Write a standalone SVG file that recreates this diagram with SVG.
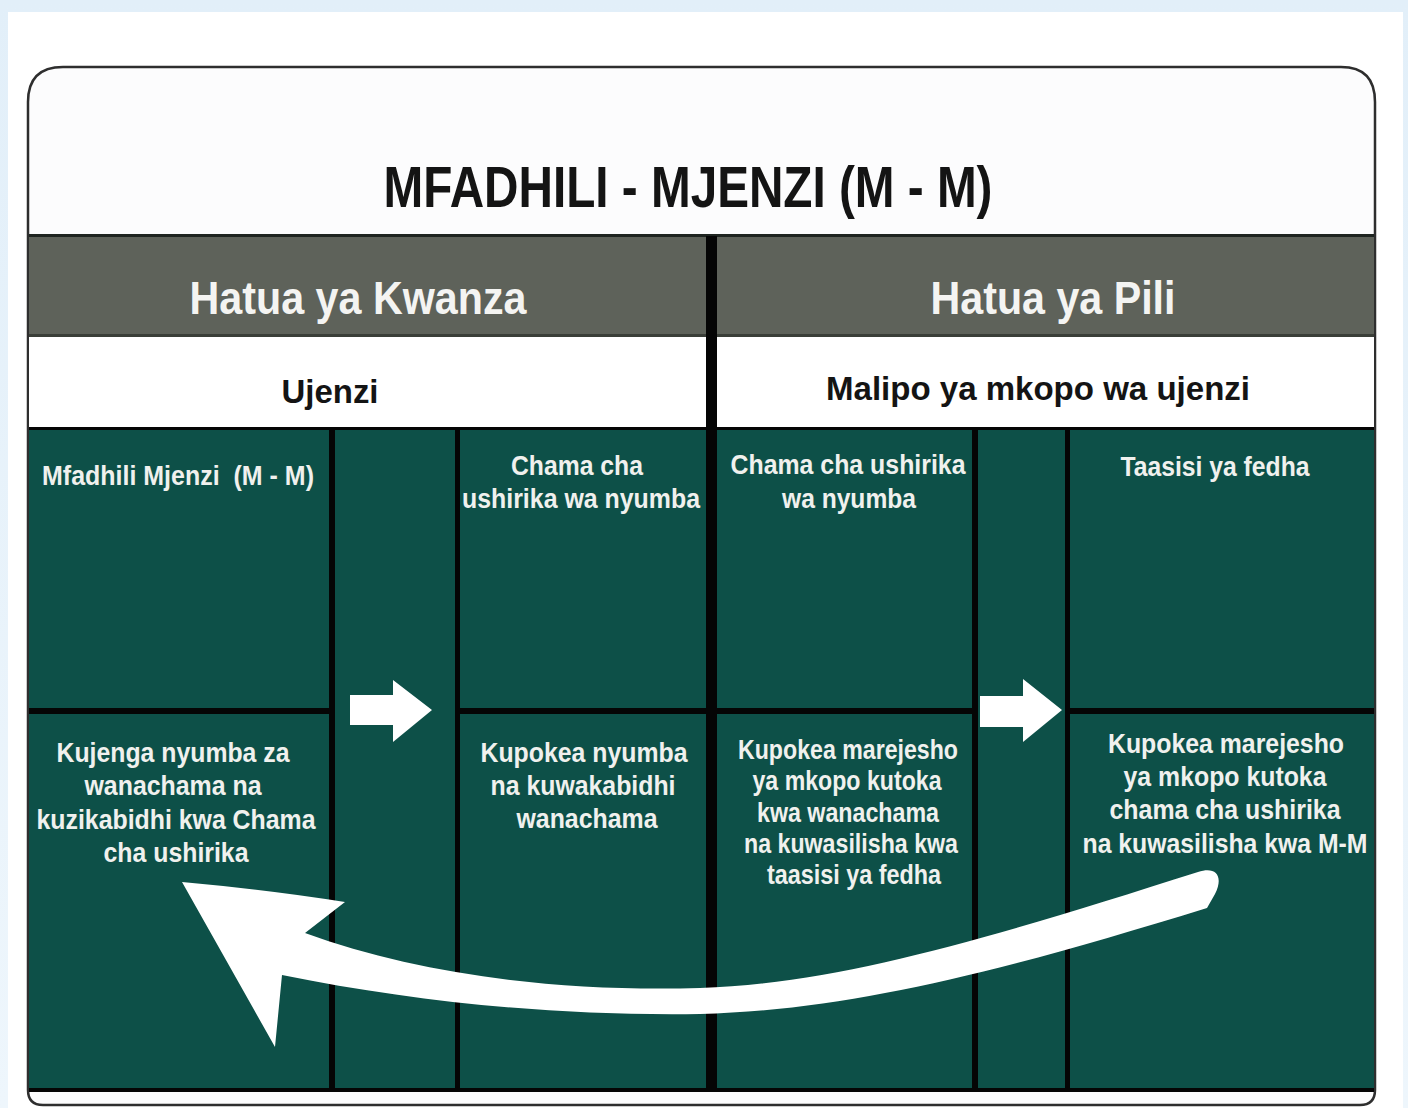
<svg xmlns="http://www.w3.org/2000/svg" width="1408" height="1108" viewBox="0 0 1408 1108">
<defs>
<style>
text{font-family:"Liberation Sans Narrow","Liberation Sans",Arial,sans-serif;font-weight:bold;text-anchor:middle}
.title{font-size:58px;fill:#141414}
.hdr{font-size:46px;fill:#f4f4f2}
.sub{font-size:34px;fill:#141414}
.cell{font-size:27px;fill:#f0f1ee}
.green{fill:#0d5048}
.div{fill:#050505}
.arrow{fill:#ffffff}
</style>
<linearGradient id="bg" x1="0" y1="0" x2="0" y2="1">
<stop offset="0" stop-color="#e2eff9"/>
<stop offset="1" stop-color="#eef6fc"/>
</linearGradient>
</defs>
<rect x="0" y="0" width="1408" height="1108" fill="url(#bg)"/>
<rect x="8" y="12" width="1395" height="1096" fill="#ffffff"/>

<g id="frame">
<path d="M28,1090 L28,102 Q28,67 63,67 L1341,67 Q1375,67 1375,102 L1375,1090 Q1375,1105 1360,1105 L43,1105 Q28,1105 28,1090 Z" fill="#fcfcfd" stroke="#2e2e2e" stroke-width="2.5"/>
</g>

<g id="title">
<text class="title" x="688" y="207" textLength="609" lengthAdjust="spacingAndGlyphs">MFADHILI - MJENZI (M - M)</text>
</g>

<g id="header-bands">
<rect x="29" y="235" width="1345" height="101" fill="#5e625a"/>
<rect x="29" y="234" width="1345" height="3" fill="#1e2420"/>
<rect x="29" y="334" width="1345" height="3" fill="#3a3e38"/>
<rect x="29" y="337" width="1345" height="92" fill="#ffffff"/>
</g>

<g id="stage-kwanza">
<text class="hdr" x="358" y="314" textLength="337" lengthAdjust="spacingAndGlyphs">Hatua ya Kwanza</text>
<text class="sub" x="330" y="403" textLength="97" lengthAdjust="spacingAndGlyphs">Ujenzi</text>
</g>
<g id="stage-pili">
<text class="hdr" x="1053" y="314" textLength="245" lengthAdjust="spacingAndGlyphs">Hatua ya Pili</text>
<text class="sub" x="1038" y="400" textLength="424" lengthAdjust="spacingAndGlyphs">Malipo ya mkopo wa ujenzi</text>
</g>

<g id="grid">
<rect class="green" x="29" y="429" width="1345" height="661"/>
<rect class="div" x="29" y="427" width="1345" height="3"/>
<rect class="div" x="29" y="1088" width="1345" height="4"/>
<rect class="div" x="329" y="429" width="6" height="661"/>
<rect class="div" x="455" y="429" width="5" height="661"/>
<rect class="div" x="706" y="236" width="11" height="854"/>
<rect class="div" x="972" y="429" width="6" height="661"/>
<rect class="div" x="1065" y="429" width="5" height="661"/>
<rect class="div" x="29" y="708" width="302" height="6"/>
<rect class="div" x="457" y="708" width="251" height="6"/>
<rect class="div" x="715" y="708" width="259" height="6"/>
<rect class="div" x="1067" y="708" width="307" height="6"/>
</g>

<g id="node-mfadhili">
<text class="cell" x="178" y="485" textLength="272" lengthAdjust="spacingAndGlyphs">Mfadhili Mjenzi &#160;(M - M)</text>
</g>
<g id="node-chama-1">
<text class="cell" x="577" y="475" textLength="132" lengthAdjust="spacingAndGlyphs">Chama cha</text>
<text class="cell" x="581" y="508" textLength="238" lengthAdjust="spacingAndGlyphs">ushirika wa nyumba</text>
</g>
<g id="node-chama-2">
<text class="cell" x="848" y="474" textLength="235" lengthAdjust="spacingAndGlyphs">Chama cha ushirika</text>
<text class="cell" x="849" y="508" textLength="134" lengthAdjust="spacingAndGlyphs">wa nyumba</text>
</g>
<g id="node-taasisi">
<text class="cell" x="1215" y="476" textLength="189" lengthAdjust="spacingAndGlyphs">Taasisi ya fedha</text>
</g>
<g id="node-kujenga">
<text class="cell" x="173" y="762" textLength="233" lengthAdjust="spacingAndGlyphs">Kujenga nyumba za</text>
<text class="cell" x="173" y="795" textLength="177" lengthAdjust="spacingAndGlyphs">wanachama na</text>
<text class="cell" x="176" y="829" textLength="279" lengthAdjust="spacingAndGlyphs">kuzikabidhi kwa Chama</text>
<text class="cell" x="176" y="862" textLength="145" lengthAdjust="spacingAndGlyphs">cha ushirika</text>
</g>
<g id="node-kupokea-nyumba">
<text class="cell" x="584" y="762" textLength="207" lengthAdjust="spacingAndGlyphs">Kupokea nyumba</text>
<text class="cell" x="583" y="795" textLength="185" lengthAdjust="spacingAndGlyphs">na kuwakabidhi</text>
<text class="cell" x="587" y="828" textLength="141" lengthAdjust="spacingAndGlyphs">wanachama</text>
</g>
<g id="node-marejesho-1">
<text class="cell" x="848" y="759" textLength="220" lengthAdjust="spacingAndGlyphs">Kupokea marejesho</text>
<text class="cell" x="847" y="790" textLength="189" lengthAdjust="spacingAndGlyphs">ya mkopo kutoka</text>
<text class="cell" x="848" y="822" textLength="182" lengthAdjust="spacingAndGlyphs">kwa wanachama</text>
<text class="cell" x="851" y="853" textLength="214" lengthAdjust="spacingAndGlyphs">na kuwasilisha kwa</text>
<text class="cell" x="854" y="884" textLength="174" lengthAdjust="spacingAndGlyphs">taasisi ya fedha</text>
</g>
<g id="node-marejesho-2">
<text class="cell" x="1226" y="753" textLength="236" lengthAdjust="spacingAndGlyphs">Kupokea marejesho</text>
<text class="cell" x="1225" y="786" textLength="203" lengthAdjust="spacingAndGlyphs">ya mkopo kutoka</text>
<text class="cell" x="1225" y="819" textLength="231" lengthAdjust="spacingAndGlyphs">chama cha ushirika</text>
<text class="cell" x="1225" y="853" textLength="285" lengthAdjust="spacingAndGlyphs">na kuwasilisha kwa M-M</text>
</g>

<g id="connectors">
<path class="arrow" d="M350,695 L393,695 L393,680 L432,710 L393,742 L393,725 L350,725 Z"/>
<path class="arrow" d="M980,696 L1023,696 L1023,679 L1062,710 L1023,742 L1023,727 L980,727 Z"/>
<path class="arrow" d="M182,882 Q270,890 345,902 L305,933 C420,975 560,992 700,988 C840,984 1000,935 1198,872 C1216,866 1224,876 1215,894 L1207,908 C1000,972 850,1010 700,1014 C560,1016 420,1003 282,975 L275,1047 Z"/>
</g>
</svg>
